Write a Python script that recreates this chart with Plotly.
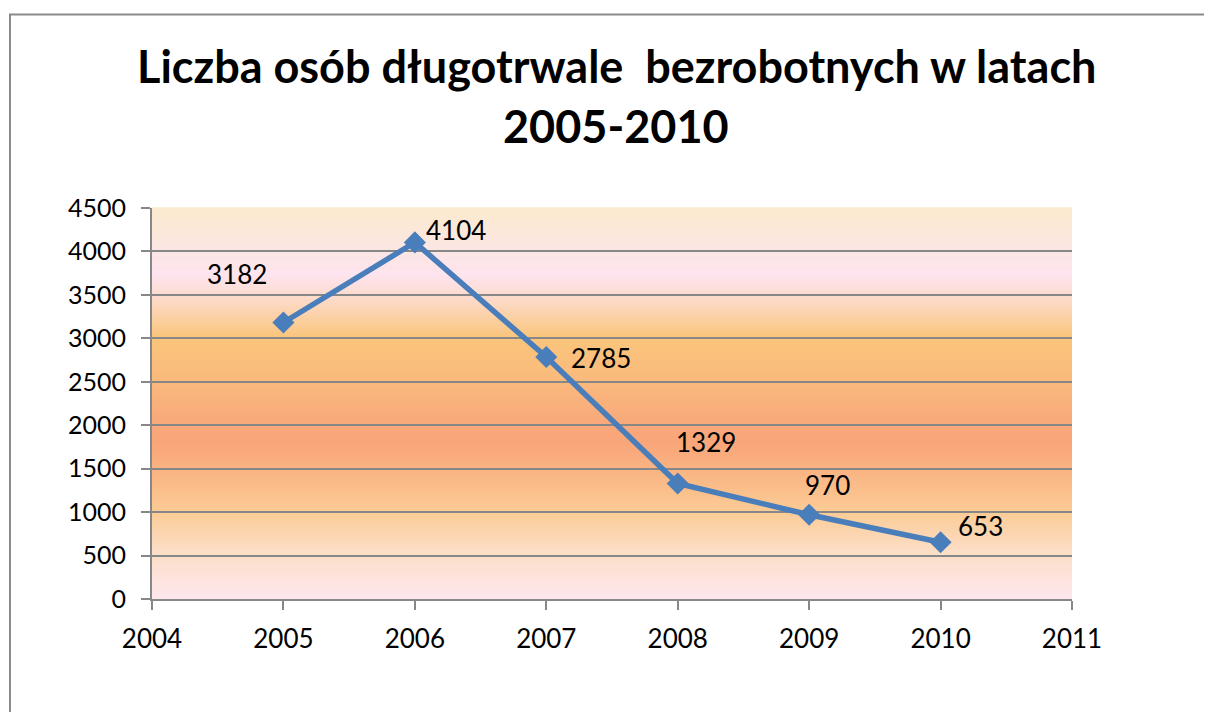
import plotly.graph_objects as go

# ---- data ----
years = [2005, 2006, 2007, 2008, 2009, 2010]
values = [3182, 4104, 2785, 1329, 970, 653]
x_ticks = [2004, 2005, 2006, 2007, 2008, 2009, 2010, 2011]
y_ticks = [0, 500, 1000, 1500, 2000, 2500, 3000, 3500, 4000, 4500]
title_line1 = "Liczba osób długotrwale\u00a0 bezrobotnych w latach"
title_line2 = "2005-2010"

# ---- styling ----
label_shift = [(-46, 49), (41, 12), (55, -1), (28, 42), (18, 30), (40, 16)]
FONT = "Lato"
GRID = "#878787"
OFF = 8  # page body margin

# gradient stops for plot background (fraction of y range -> color)
stops = [
    (0.00, (253, 231, 238)),
    (0.12, (252, 222, 198)),
    (0.22, (251, 204, 150)),
    (0.33, (249, 180, 130)),
    (0.40, (249, 165, 122)),
    (0.46, (249, 170, 123)),
    (0.56, (250, 186, 124)),
    (0.67, (250, 197, 124)),
    (0.76, (252, 217, 196)),
    (0.83, (253, 228, 238)),
    (0.90, (252, 230, 226)),
    (1.00, (251, 234, 206)),
]


def interp(f):
    for (f0, c0), (f1, c1) in zip(stops[:-1], stops[1:]):
        if f0 <= f <= f1:
            t = (f - f0) / (f1 - f0) if f1 > f0 else 0
            return "rgb(%d,%d,%d)" % tuple(round(a + (b - a) * t) for a, b in zip(c0, c1))
    return "rgb(%d,%d,%d)" % stops[-1][1]


n = 120
shapes = []
for i in range(n):
    f0 = i / n
    f1 = (i + 1) / n
    shapes.append(dict(type="rect", xref="x domain", yref="y domain", x0=0, x1=1,
                       y0=f0, y1=f1 + 0.002, fillcolor=interp((f0 + f1) / 2),
                       line=dict(width=0), layer="below"))

# page coordinates of plot area
L, R, T, B = 152, 1072, 208, 599
pw, ph = R - L, B - T
W, H = 1212 - OFF, 712 - OFF

# chart border (only top and left visible)
shapes.append(dict(type="rect", xref="paper", yref="paper",
                   x0=(10 - L) / pw, x1=(1240 - L) / pw,
                   y0=(B - 740) / ph, y1=(B - 14.5) / ph,
                   line=dict(color="#8a8a8a", width=2), fillcolor="rgba(0,0,0,0)", layer="above"))

fig = go.Figure()
fig.add_trace(go.Scatter(
    x=years, y=values, mode="lines+markers",
    line=dict(color="#4A7EBB", width=5.5),
    marker=dict(symbol="diamond", size=17, color="#4A7EBB"),
    hoverinfo="x+y", showlegend=False,
))

annotations = []
for xv, yv, (dx, dy) in zip(years, values, label_shift):
    annotations.append(dict(x=xv, y=yv, xref="x", yref="y", text=str(yv), showarrow=False,
                            xshift=dx, yshift=dy, font=dict(family=FONT, size=26, color="black")))
annotations.append(dict(x=(616 - L) / pw, y=(B - 66) / ph, xref="paper", yref="paper",
                        text="<b>%s</b>" % title_line1, showarrow=False, xanchor="center", yanchor="middle",
                        font=dict(family=FONT, size=45, color="black")))
annotations.append(dict(x=(616 - L) / pw, y=(B - 126) / ph, xref="paper", yref="paper",
                        text="<b>%s</b>" % title_line2, showarrow=False, xanchor="center", yanchor="middle",
                        font=dict(family=FONT, size=45, color="black")))

fig.update_layout(
    width=W, height=H,
    margin=dict(l=L - OFF, r=W - (R - OFF), t=T - OFF, b=H - (B - OFF)),
    paper_bgcolor="white", plot_bgcolor="white",
    shapes=shapes, annotations=annotations,
    font=dict(family=FONT, size=25, color="black"),
    xaxis=dict(range=[x_ticks[0], x_ticks[-1]], tickvals=x_ticks, ticktext=[str(v) for v in x_ticks],
               showgrid=False, zeroline=False, showline=True, linecolor=GRID, linewidth=2,
               ticks="outside", ticklen=9, tickwidth=2, tickcolor=GRID,
               tickfont=dict(family=FONT, size=26, color="black"), ticklabelstandoff=7),
    yaxis=dict(range=[y_ticks[0], y_ticks[-1]], tickvals=y_ticks, ticktext=[str(v) for v in y_ticks],
               showgrid=True, gridcolor=GRID, gridwidth=1.6, zeroline=False,
               showline=True, linecolor=GRID, linewidth=2,
               ticks="outside", ticklen=9, tickwidth=2, tickcolor=GRID,
               tickfont=dict(family=FONT, size=25, color="black"), ticklabelstandoff=10),
)

fig.write_html("out.html")
